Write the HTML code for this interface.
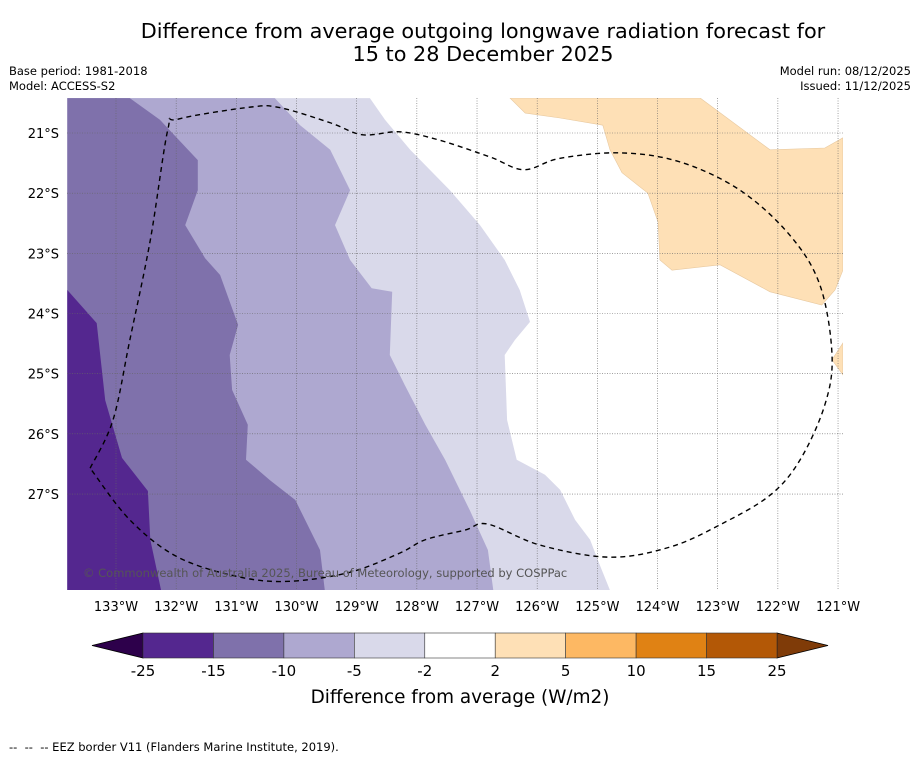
<!DOCTYPE html>
<html><head><meta charset="utf-8"><style>
body{margin:0;background:#fff;width:919px;height:758px;overflow:hidden;font-family:"DejaVu Sans","Liberation Sans",sans-serif}
svg{position:absolute;left:0;top:0}
</style></head><body>
<svg width="919" height="758" id="fig" xmlns="http://www.w3.org/2000/svg">
<text x="483" y="38" text-anchor="middle" font-size="20.8">Difference from average outgoing longwave radiation forecast for</text>
<text x="483" y="61" text-anchor="middle" font-size="20.8">15 to 28 December 2025</text>
<text x="9" y="75" font-size="11.5">Base period: 1981-2018</text>
<text x="9" y="90" font-size="11.5">Model: ACCESS-S2</text>
<text x="911" y="75" font-size="11.5" text-anchor="end">Model run: 08/12/2025</text>
<text x="911" y="90" font-size="11.5" text-anchor="end">Issued: 11/12/2025</text>
<defs><clipPath id="cp"><rect x="67" y="98" width="776" height="492"/></clipPath></defs>
<g id="map" clip-path="url(#cp)"><rect x="67" y="98" width="776" height="492" fill="#fff"/></g>
<g id="axes"></g>
<g id="cbar"></g>
<text x="460" y="703" text-anchor="middle" font-size="18.4">Difference from average (W/m2)</text>
<text x="9" y="751" font-size="11.5">-- &#160;-- &#160;-- EEZ border V11 (Flanders Marine Institute, 2019).</text>
</svg>
<script>
const lonTicks=[-133,-132,-131,-130,-129,-128,-127,-126,-125,-124,-123,-122,-121];
const latTicks=[-21,-22,-23,-24,-25,-26,-27];
const levels=[-25,-15,-10,-5,-2,2,5,10,15,25];
const levelColors=["#54278f","#7f71ab","#aea8d0","#d9d9ea","#ffffff","#fee0b6","#fdb863","#e08214","#b35806"];
const underColor="#2d004b", overColor="#7f3b08";
const regionMed=[[-133.81,-20.42],[-132.77,-20.42],[-132.27,-20.78],[-131.64,-21.45],[-131.64,-21.95],[-131.85,-22.53],[-131.52,-23.08],[-131.27,-23.36],[-130.97,-24.19],[-131.11,-24.69],[-131.07,-25.27],[-130.81,-25.85],[-130.84,-26.43],[-130.44,-26.77],[-130.02,-27.10],[-129.61,-27.93],[-129.53,-28.60],[-133.81,-28.60]];
const regionDark=[[-133.81,-23.61],[-133.32,-24.16],[-133.18,-25.44],[-132.90,-26.40],[-132.47,-26.95],[-132.43,-27.76],[-132.25,-28.60],[-133.81,-28.60]];
const regionLight=[[-133.81,-20.42],[-130.36,-20.42],[-129.94,-20.87],[-129.44,-21.28],[-129.11,-21.95],[-129.36,-22.53],[-129.11,-23.11],[-128.75,-23.58],[-128.41,-23.64],[-128.45,-24.69],[-128.20,-25.19],[-127.86,-25.85],[-127.53,-26.43],[-127.12,-27.27],[-126.82,-27.93],[-126.73,-28.60],[-133.81,-28.60]];
const regionLightest=[[-133.81,-20.42],[-128.78,-20.42],[-128.53,-20.78],[-128.11,-21.28],[-127.45,-21.95],[-126.95,-22.53],[-126.54,-23.11],[-126.29,-23.61],[-126.12,-24.14],[-126.37,-24.44],[-126.54,-24.69],[-126.50,-25.77],[-126.34,-26.43],[-125.87,-26.68],[-125.62,-26.93],[-125.37,-27.43],[-125.12,-27.76],[-124.96,-28.18],[-124.79,-28.60],[-133.81,-28.60]];
const regionOrange=[[-126.45,-20.42],[-126.20,-20.67],[-125.62,-20.75],[-124.91,-20.87],[-124.79,-21.28],[-124.59,-21.66],[-124.16,-22.00],[-123.99,-22.48],[-123.96,-23.11],[-123.76,-23.28],[-122.96,-23.19],[-122.13,-23.64],[-121.27,-23.86],[-121.05,-23.61],[-120.92,-23.28],[-120.92,-21.08],[-121.22,-21.25],[-122.13,-21.28],[-123.29,-20.42]];
const regionOrange2=[[-120.92,-24.49],[-121.10,-24.77],[-120.92,-25.02]];
const eez=[[-133.43,-26.57],[-133.05,-25.77],[-132.77,-24.44],[-132.43,-22.78],[-132.14,-20.95],[-131.97,-20.77],[-130.77,-20.57],[-130.27,-20.58],[-129.44,-20.83],[-128.90,-21.03],[-128.28,-20.98],[-127.62,-21.12],[-126.78,-21.40],[-126.22,-21.61],[-125.62,-21.42],[-124.62,-21.33],[-123.63,-21.48],[-122.63,-21.95],[-121.80,-22.70],[-121.30,-23.53],[-121.10,-24.69],[-121.22,-25.52],[-121.63,-26.43],[-122.13,-27.02],[-122.96,-27.51],[-123.79,-27.88],[-124.79,-28.05],[-125.95,-27.85],[-126.82,-27.50],[-127.20,-27.60],[-127.86,-27.76],[-128.28,-27.98],[-129.11,-28.30],[-130.11,-28.45],[-130.94,-28.38],[-131.97,-28.05],[-132.77,-27.43],[-133.43,-26.57]];
const NS="http://www.w3.org/2000/svg";
const X=lon=>116+(lon+133)*60.17;
const Y=lat=>133+(-21-lat)*60.17;
function mk(t,a,p){const e=document.createElementNS(NS,t);for(const k in a)e.setAttribute(k,a[k]);p.appendChild(e);return e;}
const map=document.getElementById('map');
const pts=r=>r.map(p=>X(p[0]).toFixed(1)+','+Y(p[1]).toFixed(1)).join(' ');
[[regionLightest,levelColors[3],'region-minus5-to-minus2'],[regionLight,levelColors[2],'region-minus10-to-minus5'],[regionMed,levelColors[1],'region-minus15-to-minus10'],[regionDark,levelColors[0],'region-minus25-to-minus15'],[regionOrange,levelColors[5],'region-2-to-5'],[regionOrange2,levelColors[5],'region-2-to-5-east']].forEach(([r,c,n])=>{
  const e=mk('polygon',{points:pts(r),fill:c,stroke:c=="#fee0b6"?"#e8c9a0":"none","stroke-width":0.6},map);
  
  
});
lonTicks.forEach(l=>{const e=mk('line',{x1:X(l),x2:X(l),y1:98,y2:590,stroke:"#666","stroke-width":0.6,"stroke-dasharray":"1,1.5"},map);

});
latTicks.forEach(l=>{const e=mk('line',{x1:67,x2:843,y1:Y(l),y2:Y(l),stroke:"#666","stroke-width":0.6,"stroke-dasharray":"1,1.5"},map);

});
// smooth EEZ with Catmull-Rom
const P=eez.map(p=>[X(p[0]),Y(p[1])]);
let d=`M${P[0][0]},${P[0][1]}`;
for(let i=0;i<P.length-1;i++){const p0=P[Math.max(i-1,0)],p1=P[i],p2=P[i+1],p3=P[Math.min(i+2,P.length-1)];
d+=` C${p1[0]+(p2[0]-p0[0])/6},${p1[1]+(p2[1]-p0[1])/6} ${p2[0]-(p3[0]-p1[0])/6},${p2[1]-(p3[1]-p1[1])/6} ${p2[0]},${p2[1]}`;}
const ez=mk('path',{d:d,fill:"none",stroke:"#000","stroke-width":1.4,"stroke-dasharray":"5,4"},map);


const cr=mk('text',{x:83,y:577,"font-size":11.5,fill:"#555"},map);
cr.textContent="© Commonwealth of Australia 2025, Bureau of Meteorology, supported by COSPPac";


const ax=document.getElementById('axes');
lonTicks.forEach(l=>{const t=mk('text',{x:X(l),y:611,"font-size":13,"text-anchor":"middle"},ax);t.textContent=Math.abs(l)+"°W";

});
latTicks.forEach(l=>{const t=mk('text',{x:59,y:Y(l)+5,"font-size":13,"text-anchor":"end"},ax);t.textContent=Math.abs(l)+"°S";

});
const cb=document.getElementById('cbar');const x0=143,x1=777,yt=633,yb=658,n=levelColors.length,w=(x1-x0)/n;
const lt=mk('polygon',{points:`${x0},${yt} ${x0},${yb} 92,${(yt+yb)/2}`,fill:underColor,stroke:"#000","stroke-width":0.8},cb);


const rt=mk('polygon',{points:`${x1},${yt} ${x1},${yb} 828,${(yt+yb)/2}`,fill:overColor,stroke:"#000","stroke-width":0.8},cb);


levelColors.forEach((c,i)=>{const r=mk('rect',{x:x0+i*w,y:yt,width:w,height:yb-yt,fill:c,stroke:"#333","stroke-width":0.6},cb);

});
levels.forEach((v,i)=>{const t=mk('text',{x:x0+i*w,y:676,"font-size":15,"text-anchor":"middle"},cb);t.textContent=v;

});
</script>
</body></html>
